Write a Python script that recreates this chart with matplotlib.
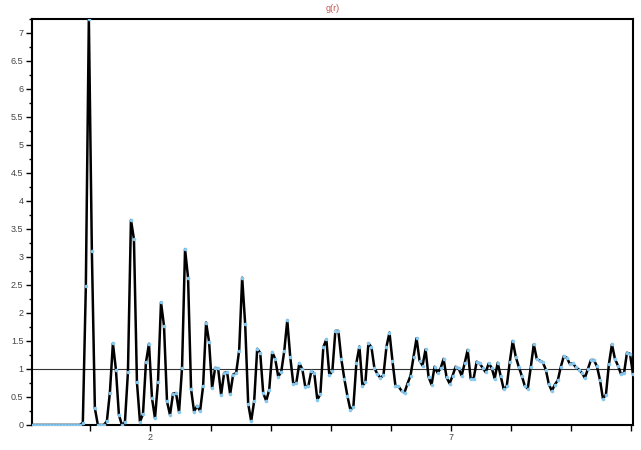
import numpy as np
import matplotlib
matplotlib.use('Agg')
from matplotlib import pyplot as plt
from matplotlib.ticker import FixedLocator, MultipleLocator, FuncFormatter

# r grid (bin centres) and g(r) values
r = 0.025 + 0.05 * np.arange(201)
g = [0.0] * 16 + [
    0.00, 0.04, 2.48, 7.25, 3.11, 0.30, 0.00, 0.00, 0.00, 0.07,
    0.58, 1.46, 0.99, 0.18, 0.00, 0.05, 0.94, 3.66, 3.32, 0.76,
    0.06, 0.19, 1.12, 1.45, 0.48, 0.12, 0.77, 2.19, 1.77, 0.42,
    0.18, 0.56, 0.57, 0.23, 1.02, 3.14, 2.63, 0.64, 0.24, 0.34,
    0.25, 0.69, 1.83, 1.48, 0.66, 1.02, 1.01, 0.54, 0.93, 0.94,
    0.55, 0.90, 0.93, 1.33, 2.63, 1.80, 0.38, 0.07, 0.43, 1.36,
    1.29, 0.57, 0.43, 0.63, 1.30, 1.18, 0.86, 0.95, 1.32, 1.87,
    1.21, 0.74, 0.75, 1.10, 1.00, 0.68, 0.69, 0.96, 0.92, 0.45,
    0.55, 1.39, 1.53, 0.89, 0.96, 1.68, 1.68, 1.17, 0.82, 0.52,
    0.27, 0.33, 1.11, 1.40, 0.70, 0.77, 1.46, 1.39, 1.01, 0.91,
    0.84, 0.89, 1.40, 1.65, 1.14, 0.69, 0.69, 0.61, 0.58, 0.74,
    0.88, 1.21, 1.55, 1.15, 1.06, 1.35, 0.86, 0.72, 1.04, 0.93,
    1.01, 1.18, 0.85, 0.74, 0.88, 1.04, 1.01, 0.88, 1.10, 1.34,
    0.83, 0.83, 1.13, 1.10, 1.02, 0.94, 1.10, 1.02, 0.83, 1.11,
    0.87, 0.64, 0.69, 1.12, 1.50, 1.22, 1.04, 0.88, 0.70, 0.65,
    1.03, 1.44, 1.18, 1.15, 1.12, 0.99, 0.73, 0.61, 0.72, 0.80,
    1.04, 1.23, 1.20, 1.09, 1.10, 1.03, 0.99, 0.93, 0.84, 1.00,
    1.16, 1.16, 1.05, 0.81, 0.47, 0.54, 1.09, 1.44, 1.18, 1.06,
    0.91, 0.92, 1.29, 1.27, 0.91,
]

x_labels = {2: '2', 7: '7'}

plt.rcParams['font.family'] = ['Liberation Sans', 'DejaVu Sans']

fig = plt.figure(figsize=(6.41, 4.5), dpi=100)
ax = fig.add_axes([0.0495, 0.0556, 0.938, 0.9022])

ax.axhline(1.0, color='#333333', lw=0.8, zorder=1)
ax.plot(r, g, color='black', lw=1.8, zorder=2)
ax.plot(r, g, ls='none', marker='o', ms=2.6, mec='none', mfc='#86c8f0', zorder=3)

ax.set_xlim(r[0], r[-1])
ax.set_ylim(0, 7.25)

xt = list(range(1, 11))
ax.xaxis.set_major_locator(FixedLocator(xt))
ax.set_xticklabels([x_labels.get(t, '') for t in xt])
ax.yaxis.set_major_locator(MultipleLocator(0.5))
ax.yaxis.set_minor_locator(MultipleLocator(0.25))
ax.yaxis.set_major_formatter(FuncFormatter(lambda v, p: '%g' % v))

ax.tick_params(axis='both', which='major', direction='out', length=4, width=1,
               labelsize=6.5, labelcolor='#444444', pad=2)
ax.tick_params(axis='y', which='minor', direction='out', length=2.5, width=1)

for s in ax.spines.values():
    s.set_linewidth(1.5)
    s.set_color('black')

ax.set_title('g(r)', color='#c0504d', fontsize=6.5, pad=6)

plt.savefig('out.png', dpi=100)
